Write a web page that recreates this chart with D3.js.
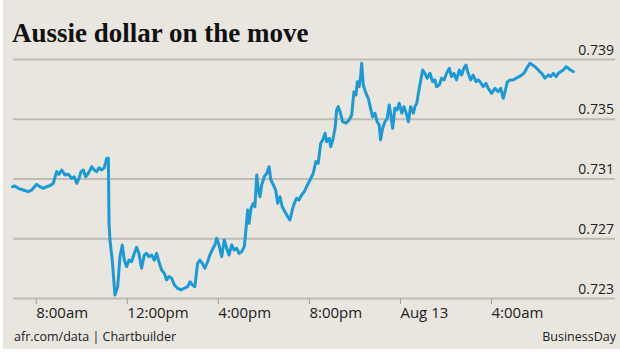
<!DOCTYPE html>
<html><head><meta charset="utf-8">
<script src="https://cdn.jsdelivr.net/npm/d3@7"></script>
<style>body{margin:0;background:#fff}svg{display:block}</style>
</head><body><svg id="c" width="620" height="356"></svg>
<script>
// hours since midnight, Aug 12
const hours = [
6.98,7.09,7.23,7.45,7.67,7.82,8.04,8.18,8.33,8.48,
8.62,8.77,8.92,9.02,9.14,9.28,9.43,9.58,9.69,9.80,
9.90,9.99,10.09,10.19,10.31,10.46,10.57,10.68,10.78,10.90,
11.01,11.12,11.19,11.22,11.26,11.36,11.48,11.60,11.70,11.80,
11.89,11.99,12.10,12.21,12.33,12.43,12.53,12.65,12.77,12.87,
12.97,13.09,13.21,13.31,13.41,13.53,13.65,13.75,13.85,13.97,
14.09,14.23,14.38,14.52,14.67,14.78,14.88,14.99,15.11,15.21,
15.32,15.43,15.55,15.65,15.75,15.87,15.95,16.05,16.17,16.28,
16.39,16.49,16.61,16.72,16.83,16.93,17.05,17.16,17.22,17.31,
17.37,17.46,17.56,17.63,17.71,17.78,17.85,17.93,18.04,18.15,
18.25,18.33,18.44,18.54,18.63,18.73,18.83,18.95,19.07,19.17,
19.27,19.36,19.46,19.56,19.68,19.80,19.90,20.05,20.19,20.31,
20.41,20.52,20.61,20.71,20.78,20.90,20.96,21.05,21.15,21.22,
21.29,21.37,21.48,21.63,21.77,21.88,21.98,22.07,22.13,22.21,
22.28,22.32,22.39,22.51,22.61,22.71,22.80,22.90,23.00,23.09,
23.15,23.24,23.34,23.44,23.53,23.59,23.68,23.78,23.88,23.97,
24.08,24.18,24.30,24.37,24.47,24.59,24.66,24.74,24.85,25.00,
25.10,25.20,25.32,25.44,25.54,25.61,25.73,25.83,25.94,26.05,
26.17,26.27,26.37,26.49,26.61,26.71,26.81,26.90,27.00,27.11,
27.22,27.34,27.44,27.52,27.66,27.78,27.88,28.03,28.18,28.32,
28.43,28.54,28.62,28.72,28.87,28.98,29.10,29.24,29.35,29.45,
29.57,29.71,29.83,29.93,30.08,30.23,30.37,30.52,30.62,30.74,
30.86,30.96,31.06,31.18,31.30,31.40,31.50,31.62];

const values = [
0.73045,0.73050,0.73034,0.73023,0.73012,0.73023,0.73061,0.73045,0.73034,0.73045,
0.73052,0.73068,0.73146,0.73128,0.73157,0.73124,0.73128,0.73101,0.73112,0.73068,
0.73101,0.73146,0.73157,0.73112,0.73135,0.73179,0.73157,0.73146,0.73172,0.73157,
0.73172,0.73235,0.73235,0.72800,0.72688,0.72554,0.72320,0.72376,0.72577,0.72655,
0.72554,0.72510,0.72554,0.72543,0.72599,0.72639,0.72599,0.72499,0.72588,0.72599,
0.72577,0.72588,0.72554,0.72599,0.72543,0.72487,0.72465,0.72421,0.72443,0.72432,
0.72387,0.72365,0.72354,0.72365,0.72376,0.72409,0.72387,0.72376,0.72532,0.72554,
0.72532,0.72499,0.72543,0.72588,0.72621,0.72655,0.72700,0.72655,0.72577,0.72688,
0.72633,0.72588,0.72655,0.72621,0.72633,0.72599,0.72610,0.72643,0.72733,0.72889,
0.72800,0.72901,0.72934,0.72911,0.73124,0.73023,0.72978,0.73057,0.73112,0.73135,
0.73179,0.73090,0.73057,0.73023,0.72934,0.72978,0.72911,0.72878,0.72844,0.72822,
0.72889,0.72934,0.72968,0.72956,0.72990,0.73012,0.73045,0.73090,0.73135,0.73213,
0.73202,0.73336,0.73358,0.73403,0.73346,0.73369,0.73313,0.73358,0.73436,0.73559,
0.73581,0.73547,0.73480,0.73470,0.73492,0.73525,0.73681,0.73659,0.73748,0.73715,
0.73793,0.73871,0.73726,0.73670,0.73637,0.73570,0.73514,0.73537,0.73480,0.73458,
0.73358,0.73436,0.73480,0.73503,0.73592,0.73537,0.73436,0.73570,0.73559,0.73604,
0.73537,0.73581,0.73525,0.73480,0.73581,0.73537,0.73581,0.73604,0.73704,0.73826,
0.73804,0.73771,0.73804,0.73748,0.73760,0.73715,0.73726,0.73771,0.73760,0.73804,
0.73838,0.73782,0.73804,0.73760,0.73826,0.73793,0.73838,0.73860,0.73804,0.73760,
0.73793,0.73748,0.73760,0.73748,0.73715,0.73737,0.73704,0.73670,0.73704,0.73681,
0.73704,0.73637,0.73681,0.73748,0.73760,0.73760,0.73771,0.73782,0.73793,0.73804,
0.73838,0.73871,0.73860,0.73849,0.73826,0.73804,0.73771,0.73793,0.73782,0.73804,
0.73782,0.73804,0.73815,0.73826,0.73849,0.73838,0.73826,0.73815];

const yTicks = [0.723, 0.727, 0.731, 0.735, 0.739];
const xTickHours = [8, 12, 16, 20, 24, 28];
const xTickLabels = ["8:00am", "12:00pm", "4:00pm", "8:00pm", "Aug 13", "4:00am"];
const titleText = "Aussie dollar on the move";
const sourceText = "afr.com/data | Chartbuilder";
const brandText = "BusinessDay";

const base = new Date(2015, 7, 12, 0, 0, 0);
const toDate = h => new Date(base.getTime() + h * 3600000);
const data = hours.map((h, i) => ({ date: toDate(h), value: values[i] }));

const svg = d3.select("#c");
const sans = "'Open Sans', 'Noto Sans', sans-serif";

svg.append("rect").attr("x", 3).attr("y", 0).attr("width", 617).attr("height", 349).attr("fill", "#e8e6df");

const left = 13, right = 615;
const x = d3.scaleTime().domain([toDate(7.0), toDate(33.45)]).range([left, right]);
const y = d3.scaleLinear().domain([0.723, 0.739]).range([298, 59]);

// y gridlines + labels
const gy = svg.append("g").attr("transform", `translate(${left},0)`)
  .call(d3.axisRight(y).tickValues(yTicks).tickSize(right - left).tickFormat(d3.format(".3f")));
gy.select(".domain").remove();
gy.selectAll(".tick line").attr("stroke", "#bdbbb4").attr("stroke-width", 2);
gy.selectAll(".tick text")
  .attr("x", right - left - 1).attr("dy", "-5").attr("text-anchor", "end")
  .attr("font-family", sans).attr("font-size", 14).attr("fill", "#222");

// x axis ticks + labels
const gx = svg.append("g").attr("transform", "translate(0,299)")
  .call(d3.axisBottom(x).tickValues(xTickHours.map(toDate)).tickSize(5)
    .tickFormat((d, i) => xTickLabels[i]));
gx.select(".domain").remove();
gx.selectAll(".tick line").attr("stroke", "#9d9b95").attr("stroke-width", 1);
gx.selectAll(".tick text")
  .attr("text-anchor", "start").attr("x", 0).attr("y", 8).attr("dy", "0.71em")
  .attr("font-family", sans).attr("font-size", 15).attr("fill", "#222");

// line
const line = d3.line().x(d => x(d.date)).y(d => y(d.value));
svg.append("path").datum(data).attr("d", line)
  .attr("fill", "none").attr("stroke", "#1d9ad6").attr("stroke-width", 3)
  .attr("stroke-linejoin", "round").attr("stroke-linecap", "round");

// title & footer
svg.append("text").attr("x", 12).attr("y", 42).text(titleText)
  .attr("font-family", "'Liberation Serif', 'DejaVu Serif', serif").attr("font-weight", "bold")
  .attr("font-size", 27).attr("fill", "#111");
svg.append("text").attr("x", 14).attr("y", 341).text(sourceText)
  .attr("font-family", sans).attr("font-size", 12.5).attr("fill", "#222");
svg.append("text").attr("x", 616).attr("y", 341).attr("text-anchor", "end").text(brandText)
  .attr("font-family", sans).attr("font-size", 12.5).attr("fill", "#222");
</script>
</body></html>
